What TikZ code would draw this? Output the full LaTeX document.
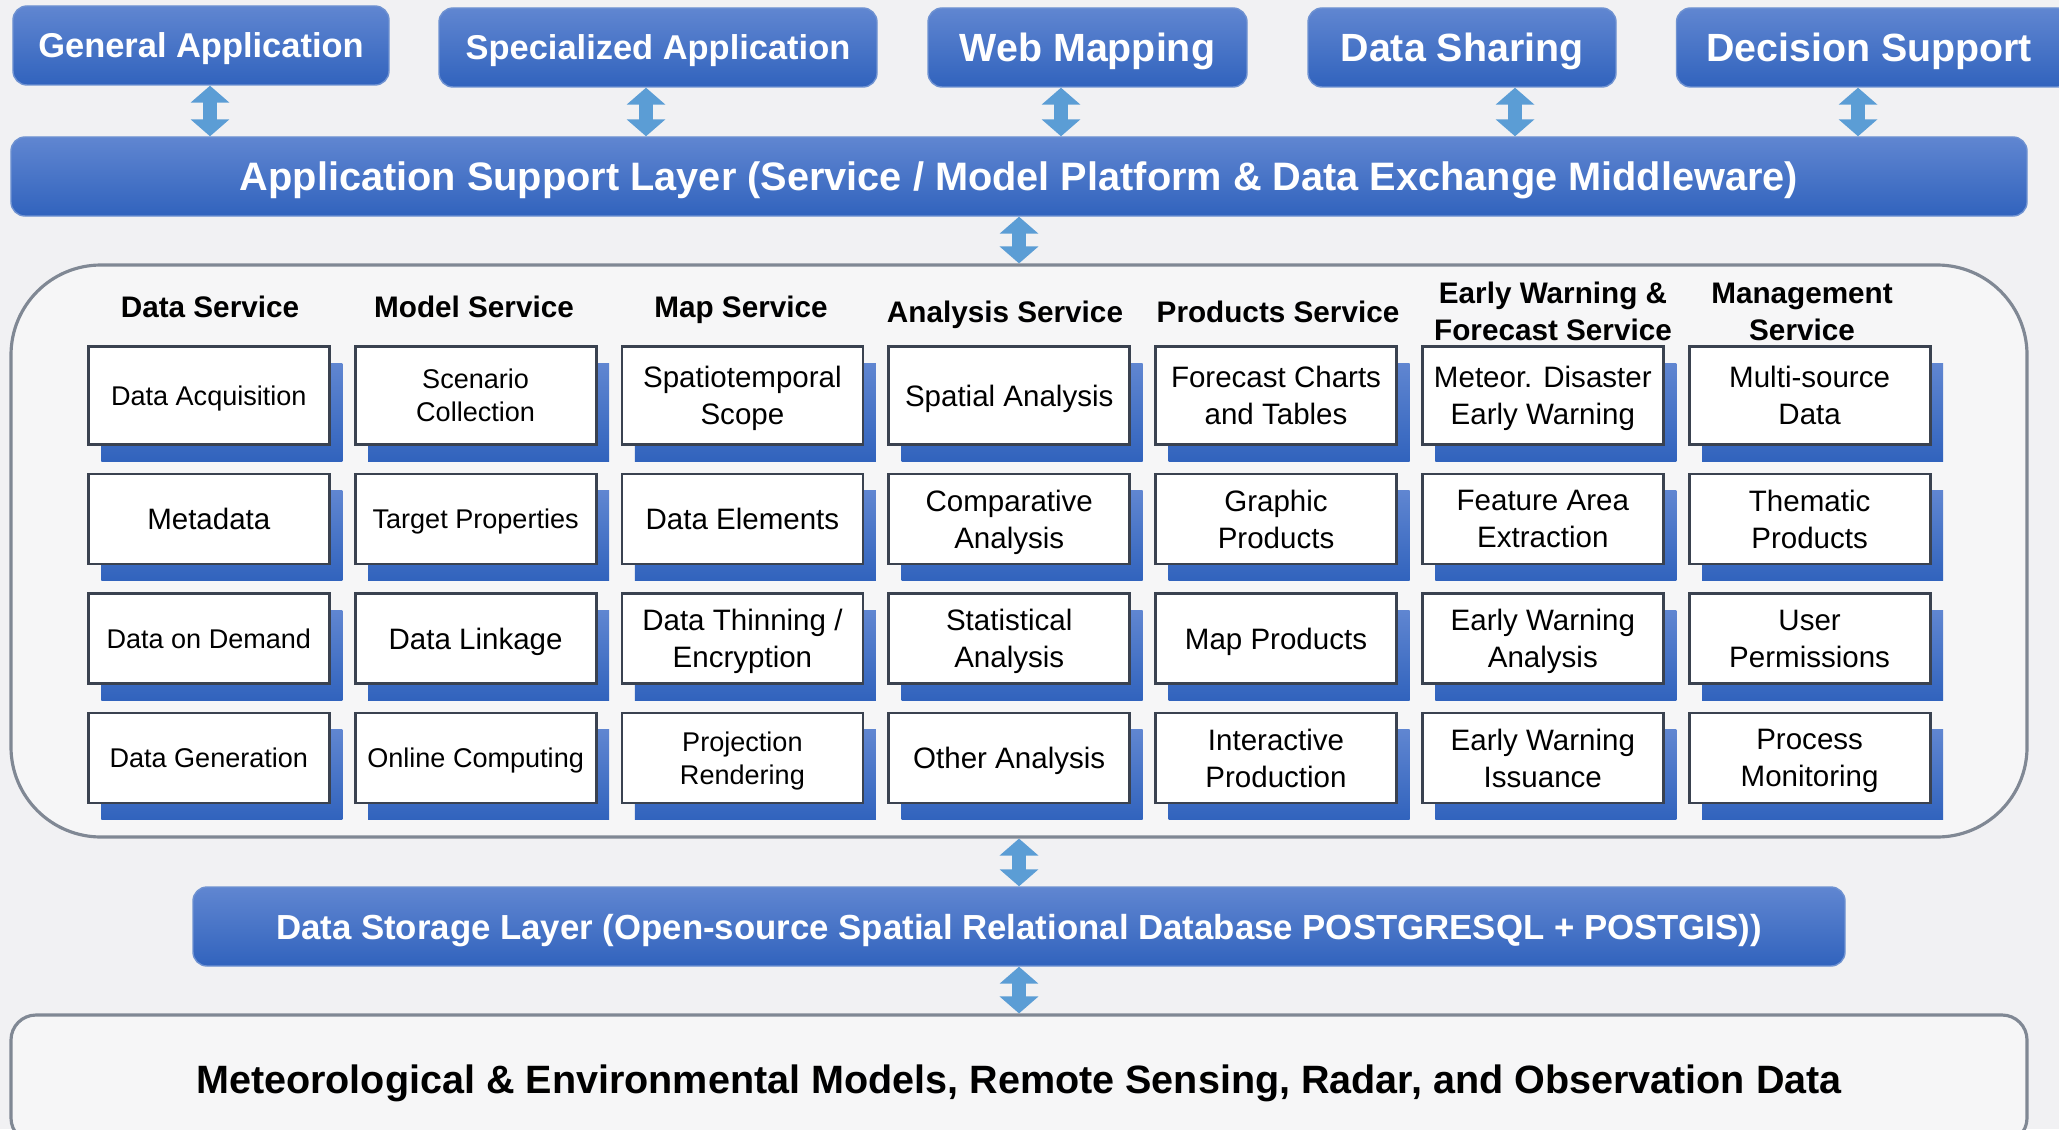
\documentclass[tikz,border=0pt]{standalone}
\usepackage{fontspec}
\setmainfont{Liberation Sans}
\usetikzlibrary{positioning, shadows, arrows.meta}

\definecolor{bluetop}{RGB}{96,134,209}
\definecolor{bluebot}{RGB}{49,99,189}
\definecolor{arrowblue}{RGB}{91,157,213}
\definecolor{cellline}{RGB}{58,66,80}
\definecolor{panelline}{RGB}{128,136,148}
\definecolor{backgr}{RGB}{241,241,243}
\definecolor{panelfill}{RGB}{246,246,247}

\begin{document}
\begin{tikzpicture}[
    layer/.style={rounded corners=0.14cm, top color=bluetop, bottom color=bluebot, draw=bluebot!70!white, line width=0.4pt, text=white, inner sep=0pt, text depth=0pt, minimum height=0.79cm},
    panel/.style={draw=panelline, line width=0.9pt, fill=panelfill, inner sep=0pt},
    cell/.style={draw=cellline, line width=0.8pt, fill=white, align=center, inner sep=0pt, text depth=0pt, minimum width=2.41cm, minimum height=0.9cm, font=\fontsize{8.4}{10.5}\selectfont, general shadow={shadow xshift=0.13cm, shadow yshift=-0.165cm, top color=bluetop, bottom color=bluebot}},
    smallcell/.style={cell, font=\fontsize{7.7}{9.4}\selectfont},
    firstrow/.style={minimum height=0.98cm},
    head/.style={align=center, text depth=0pt, font=\fontsize{8.45}{10.5}\selectfont\bfseries},
    updown/.style={draw=arrowblue, line width=1.4mm, {Triangle[width=3.8mm,length=1.7mm]}-{Triangle[width=3.8mm,length=1.7mm]}},
]
    \useasboundingbox (0, 0) rectangle (20.59, -11.29);
    \fill[backgr] (0, 0) rectangle (20.59, -11.29);

    \node[layer, minimum width=3.76cm, font=\fontsize{9.8}{12}\selectfont\bfseries] (general) at (2.01, -0.455) {General Application};
    \node[layer, minimum width=4.38cm, font=\fontsize{9.8}{12}\selectfont\bfseries] (specialized) at (6.58, -0.475) {Specialized Application};
    \node[layer, minimum width=3.19cm, font=\fontsize{11.2}{13}\selectfont\bfseries] (webmap) at (10.875, -0.475) {Web Mapping};
    \node[layer, minimum width=3.08cm, font=\fontsize{11.2}{13}\selectfont\bfseries] (sharing) at (14.62, -0.475) {Data Sharing};
    \node[layer, minimum width=3.95cm, font=\fontsize{11.2}{13}\selectfont\bfseries] (decision) at (18.74, -0.475) {Decision Support\hspace*{0.1cm}};

    \node[layer, minimum width=20.16cm, font=\fontsize{11.3}{13}\selectfont\bfseries] (support) at (10.19, -1.765) {Application Support Layer (Service / Model Platform \& Data Exchange Middleware)};

    \node[panel, rounded corners=0.9cm, minimum width=20.16cm, minimum height=5.72cm] (services) at (10.19, -5.51) {};

    \node[layer, minimum width=16.52cm, font=\fontsize{9.9}{12}\selectfont\bfseries] (storage) at (10.19, -9.265) {Data Storage Layer (Open-source Spatial Relational Database POSTGRESQL + POSTGIS))};

    \node[panel, rounded corners=0.25cm, minimum width=20.16cm, minimum height=1.28cm, text depth=0pt, font=\fontsize{11.25}{13}\selectfont\bfseries] (sources) at (10.19, -10.79) {Meteorological \& Environmental Models, Remote Sensing, Radar, and Observation Data};

    \coordinate (a1) at (2.10, 0);
    \coordinate (a2) at (6.46, 0);
    \coordinate (a3) at (10.61, 0);
    \coordinate (a4) at (15.15, 0);
    \coordinate (a5) at (18.58, 0);

    \draw[updown] (general.south -| a1) -- (support.north -| a1);
    \draw[updown] (specialized.south -| a2) -- (support.north -| a2);
    \draw[updown] (webmap.south -| a3) -- (support.north -| a3);
    \draw[updown] (sharing.south -| a4) -- (support.north -| a4);
    \draw[updown] (decision.south -| a5) -- (support.north -| a5);
    \draw[updown] (support.south) -- (services.north);
    \draw[updown] (services.south) -- (storage.north);
    \draw[updown] (storage.south) -- (sources.north);

    \node[head] (hdata) at (2.10, -3.07) {Data Service};
    \node[head] (hmodel) at (4.74, -3.07) {Model Service};
    \node[head] (hmap) at (7.41, -3.07) {Map Service};
    \node[head] (hanalysis) at (10.05, -3.12) {Analysis Service};
    \node[head] (hproducts) at (12.78, -3.12) {Products Service};
    \node[head] (hwarning) at (15.53, -3.11) {Early Warning \&\\Forecast Service};
    \node[head] (hmanage) at (18.02, -3.12) {Management\\Service};

    \node[smallcell, firstrow] (acquisition) at (2.088, -3.955) {Data Acquisition};
    \node[cell] (metadata) at (2.088, -5.19) {Metadata};
    \node[smallcell] (ondemand) at (2.088, -6.385) {Data on Demand};
    \node[smallcell] (generation) at (2.088, -7.58) {Data Generation};

    \node[smallcell, firstrow] (scenario) at (4.756, -3.955) {Scenario\\Collection};
    \node[smallcell] (target) at (4.756, -5.19) {Target Properties};
    \node[cell] (linkage) at (4.756, -6.385) {Data Linkage};
    \node[smallcell] (online) at (4.756, -7.58) {Online Computing};

    \node[cell, firstrow] (scope) at (7.424, -3.955) {Spatiotemporal\\Scope};
    \node[cell] (elements) at (7.424, -5.19) {Data Elements};
    \node[cell] (thinning) at (7.424, -6.385) {Data Thinning /\\Encryption};
    \node[smallcell] (projection) at (7.424, -7.58) {Projection\\Rendering};

    \node[cell, firstrow] (spatial) at (10.092, -3.955) {Spatial Analysis};
    \node[cell] (comparative) at (10.092, -5.19) {Comparative\\Analysis};
    \node[cell] (statistical) at (10.092, -6.385) {Statistical\\Analysis};
    \node[cell] (other) at (10.092, -7.58) {Other Analysis};

    \node[cell, firstrow] (charts) at (12.76, -3.955) {Forecast Charts\\and Tables};
    \node[cell] (graphic) at (12.76, -5.19) {Graphic\\Products};
    \node[cell] (mapprod) at (12.76, -6.385) {Map Products};
    \node[cell] (interactive) at (12.76, -7.58) {Interactive\\Production};

    \node[cell, firstrow] (disaster) at (15.428, -3.955) {Meteor. Disaster\\Early Warning};
    \node[cell] (feature) at (15.428, -5.19) {Feature Area\\Extraction};
    \node[cell] (ewanalysis) at (15.428, -6.385) {Early Warning\\Analysis};
    \node[cell] (issuance) at (15.428, -7.58) {Early Warning\\Issuance};

    \node[cell, firstrow] (multisource) at (18.096, -3.955) {Multi-source\\Data};
    \node[cell] (thematic) at (18.096, -5.19) {Thematic\\Products};
    \node[cell] (permissions) at (18.096, -6.385) {User\\Permissions};
    \node[cell] (monitoring) at (18.096, -7.58) {Process\\Monitoring};
\end{tikzpicture}
\end{document}
